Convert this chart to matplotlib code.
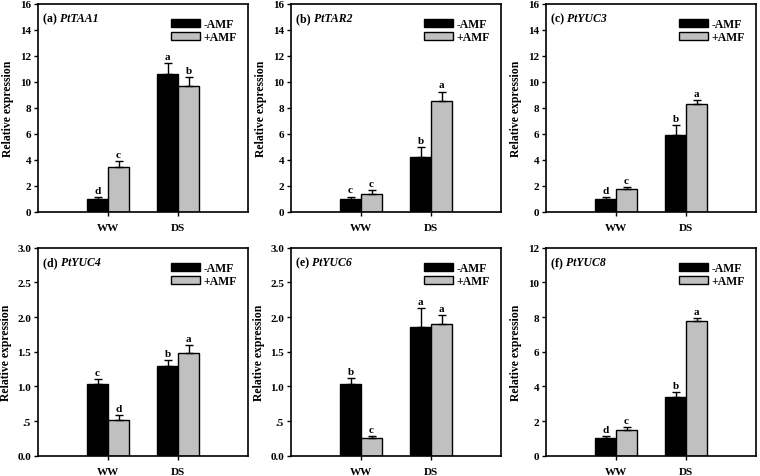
import matplotlib
matplotlib.use("Agg")
import matplotlib.pyplot as plt
import numpy as np
from matplotlib.patches import Patch

plt.rcParams['font.family'] = ['Liberation Serif', 'DejaVu Serif']
plt.rcParams['font.weight'] = 'bold'

groups = ["WW", "DS"]
series_names = ["-AMF", "+AMF"]
series_colors = ["#000000", "#c0c0c0"]

panel_labels = ["(a)", "(b)", "(c)", "(d)", "(e)", "(f)"]
gene_names = ["PtTAA1", "PtTAR2", "PtYUC3", "PtYUC4", "PtYUC6", "PtYUC8"]

# values: [ -AMF (WW, DS), +AMF (WW, DS) ]
minus_amf = [[1.0, 10.6], [1.0, 4.2], [1.0, 5.9], [1.04, 1.30], [1.04, 1.85], [1.04, 3.38]]
plus_amf = [[3.45, 9.65], [1.32, 8.48], [1.75, 8.28], [0.52, 1.48], [0.26, 1.90], [1.50, 7.80]]
minus_err = [[0.10, 0.85], [0.15, 0.77], [0.10, 0.72], [0.06, 0.08], [0.08, 0.28], [0.07, 0.27]]
plus_err = [[0.43, 0.67], [0.36, 0.75], [0.12, 0.26], [0.06, 0.11], [0.03, 0.13], [0.15, 0.15]]
minus_letters = [["d", "a"], ["c", "b"], ["d", "b"], ["c", "b"], ["b", "a"], ["d", "b"]]
plus_letters = [["c", "b"], ["c", "a"], ["c", "a"], ["d", "a"], ["c", "a"], ["c", "a"]]

yticks_big = [0, 2, 4, 6, 8, 10, 12, 14, 16]
yticks_f = [0, 2, 4, 6, 8, 10, 12]
yticks_small = [0.0, 0.5, 1.0, 1.5, 2.0, 2.5, 3.0]
yticklabels_small = ["0.0", ".5", "1.0", "1.5", "2.0", "2.5", "3.0"]

panel_ticks = [yticks_big, yticks_big, yticks_big, yticks_small, yticks_small, yticks_f]
panel_ticklabels = [[str(t) for t in yticks_big]] * 3 + [yticklabels_small, yticklabels_small,
                                                       [str(t) for t in yticks_f]]

W, H = 760, 477
fig = plt.figure(figsize=(7.6, 4.77), dpi=100)

lefts = [38, 291, 546]
tops = [4.5, 248.7]
aw, ah = 210, 208

fs = 8
x = np.arange(1, len(groups) + 1)
bw = 0.3

for i in range(6):
    r, c = divmod(i, 3)
    l = lefts[c]
    t = tops[r]
    ax = fig.add_axes([l / W, 1 - (t + ah) / H, aw / W, ah / H])
    yt = panel_ticks[i]
    ymax = yt[-1]
    vals = [minus_amf[i], plus_amf[i]]
    errs = [minus_err[i], plus_err[i]]
    lets = [minus_letters[i], plus_letters[i]]
    offs = [-bw / 2, bw / 2]
    for s in range(2):
        ax.bar(x + offs[s], vals[s], width=bw, color=series_colors[s], edgecolor="black",
               linewidth=1.0, label=series_names[s], zorder=2)
        ax.errorbar(x + offs[s], vals[s], yerr=[np.zeros(2), errs[s]], fmt="none",
                    ecolor="black", elinewidth=1.0, capsize=3, capthick=1.0, zorder=3)
        for j in range(2):
            ax.text(x[j] + offs[s], vals[s][j] + errs[s][j] + ymax * 0.01, lets[s][j],
                    ha="center", va="bottom", fontsize=fs, fontweight="bold")
    ax.set_xlim(0, 3)
    ax.set_ylim(0, ymax)
    ax.set_xticks(x)
    ax.set_xticklabels(groups, fontsize=fs, fontweight="bold")
    ax.set_yticks(yt)
    ax.set_yticklabels(panel_ticklabels[i], fontsize=fs, fontweight="bold")
    ax.tick_params(direction="out", length=3, width=1.0, pad=2)
    ax.tick_params(axis="x", pad=5)
    for sp in ax.spines.values():
        sp.set_linewidth(1.2)
    ax.set_ylabel("Relative expression", fontsize=fs + 0.5, fontweight="bold", labelpad=4)
    t1 = ax.text(0.025, 0.958, panel_labels[i] + " ", transform=ax.transAxes,
                 ha="left", va="top", fontsize=fs + 0.5, fontweight="bold")
    ax.annotate(gene_names[i], xy=(1, 0), xycoords=t1, ha="left", va="bottom",
                fontsize=fs + 0.5, fontweight="bold", fontstyle="italic")
    handles = [Patch(facecolor=series_colors[k], edgecolor="black", linewidth=1.0,
                     label=series_names[k]) for k in range(2)]
    ax.legend(handles=handles, loc="upper right", bbox_to_anchor=(0.98, 0.965),
              frameon=False, handlelength=2.4, handleheight=0.65,
              labelspacing=0.1, handletextpad=0.3, borderaxespad=0.2,
              prop={"weight": "bold", "size": fs + 0.5})

fig.savefig("out.png", dpi=100)
